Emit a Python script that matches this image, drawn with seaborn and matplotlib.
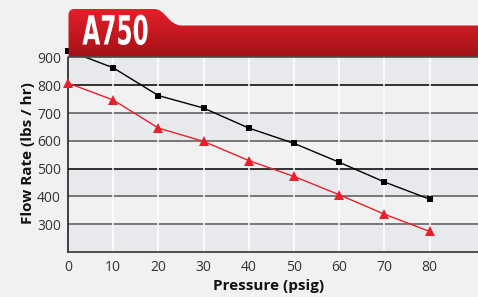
import numpy as np
import matplotlib.pyplot as plt
import seaborn as sns
from matplotlib.path import Path
from matplotlib.patches import PathPatch
from matplotlib.patheffects import AbstractPathEffect
from matplotlib.transforms import Affine2D

# data
pressure = [0, 10, 20, 30, 40, 50, 60, 70, 80]
flow_black = [925, 863, 763, 718, 646, 591, 523, 452, 390]
flow_red = [808, 747, 646, 598, 529, 472, 406, 336, 274]
y_ticks = [300, 400, 500, 600, 700, 800, 900]
x_ticks = [0, 10, 20, 30, 40, 50, 60, 70, 80]
title = "A750"


class Squeeze(AbstractPathEffect):
    # narrows the glyphs around a centre x (display pixels), text stays text
    def __init__(self, sx, cx):
        super().__init__()
        self.sx, self.cx = sx, cx

    def draw_path(self, renderer, gc, tpath, affine, rgbFace=None):
        t = affine + Affine2D().translate(-self.cx, 0).scale(self.sx, 1).translate(self.cx, 0)
        renderer.draw_path(gc, tpath, t, rgbFace)


sns.set_style("white")
plt.rcParams['font.family'] = ['Open Sans', 'DejaVu Sans']

W, H = 478, 297
fig = plt.figure(figsize=(W / 100, H / 100), dpi=100)
fig.patch.set_facecolor('#f1f1f1')

# plot area in pixel terms
left, right, top, bottom = 68, 478, 57.5, 252
ax = fig.add_axes([left / W, 1 - bottom / H, (right - left) / W, (bottom - top) / H])
ax.set_facecolor('#f1f1f1')

# alternating bands
for lo in [200, 400, 600, 800]:
    ax.axhspan(lo, lo + 100, color='#e8e9ed', zorder=0, lw=0)
for y in [300, 400, 600, 700]:
    ax.axhline(y, color='#6e6e6e', lw=1.3, zorder=1)
for y in [500, 800]:
    ax.axhline(y, color='#111111', lw=1.2, zorder=1)
for x in x_ticks[1:]:
    ax.axvline(x, color='white', lw=1.1, zorder=1)

sns.lineplot(x=pressure, y=flow_black, ax=ax, color='black', lw=1,
             marker='s', markersize=5, markeredgewidth=0, zorder=5, clip_on=False)
sns.lineplot(x=pressure, y=flow_red, ax=ax, color='#e8202a', lw=1,
             marker='^', markersize=6.5, markeredgewidth=0, zorder=5, clip_on=False)

ax.set_xlim(0, 90.7)
ax.set_ylim(200, 900)
ax.set_xticks(x_ticks)
ax.set_yticks(y_ticks)
ax.tick_params(axis='y', length=3, width=1, color='#333333', pad=2,
               labelsize=10, labelcolor='#333333')
ax.tick_params(axis='x', length=0, pad=6, labelsize=10, labelcolor='#333333')
for s in ['top', 'right']:
    ax.spines[s].set_visible(False)
ax.spines['left'].set_color('#222222')
ax.spines['bottom'].set_color('#333333')
ax.spines['left'].set_linewidth(1.2)
ax.spines['bottom'].set_linewidth(1.2)

ax.set_xlabel("Pressure (psig)", fontsize=11, fontweight='bold', color='#111111')
ax.set_ylabel("Flow Rate (lbs / hr)", fontsize=11, fontweight='bold', color='#111111')
ax.xaxis.set_label_coords((269 - left) / (right - left), -(279 - bottom) / (bottom - top))
ax.yaxis.set_label_coords(-(left - 35) / (right - left), (bottom - 153) / (bottom - top))

# red header banner (overlay in pixel coords)
ov = fig.add_axes([0, 0, 1, 1], zorder=10)
ov.set_xlim(0, W)
ov.set_ylim(H, 0)
ov.axis('off')
ov.patch.set_alpha(0)

verts = [(68.5, 57), (68.5, 15), (68.5, 9), (74.5, 9), (154, 9),
         (166, 9), (168, 25.5), (182, 25.5), (W, 25.5), (W, 57), (68.5, 57)]
codes = [Path.MOVETO, Path.LINETO, Path.CURVE3, Path.CURVE3, Path.LINETO,
         Path.CURVE4, Path.CURVE4, Path.CURVE4, Path.LINETO, Path.LINETO, Path.CLOSEPOLY]
banner = PathPatch(Path(verts, codes), facecolor='none', edgecolor='none')
ov.add_patch(banner)
grad = np.linspace(0, 1, 64).reshape(-1, 1)
top_c = np.array([0.898, 0.122, 0.161])
bot_c = np.array([0.643, 0.071, 0.090])
img = top_c + (bot_c - top_c) * grad[:, :, None]
im = ov.imshow(img, extent=[68, W, 57, 9], aspect='auto', zorder=1)
im.set_clip_path(banner)
ov.plot([68.5, W], [57.3, 57.3], color='#4a4a4a', lw=1.2, zorder=2)
ov.text(115.5, 33.5, title, color='white', fontsize=29, fontweight='bold', fontstretch='condensed',
        family=['DejaVu Sans'], ha='center', va='center', zorder=3,
        path_effects=[Squeeze(0.64, 115.5)])

fig.savefig('out.png', dpi=100, facecolor=fig.get_facecolor())
